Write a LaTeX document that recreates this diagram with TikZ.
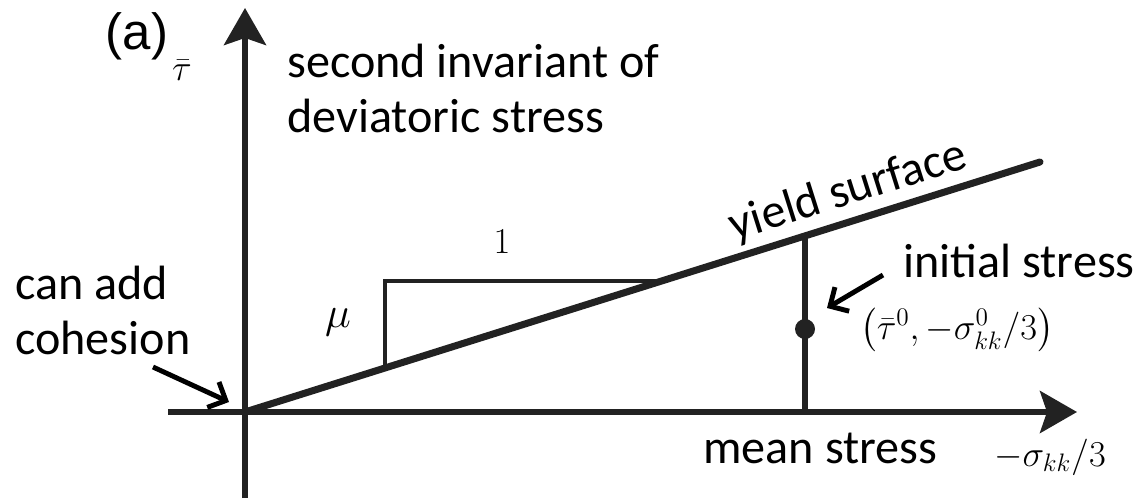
\documentclass[tikz,border=0pt]{standalone}
\usepackage[no-math]{fontspec}
\usepackage{amsmath}
\setmainfont{Carlito}
\newfontfamily\panelfont{Liberation Sans}
\usetikzlibrary{arrows.meta,positioning,calc}
\definecolor{axisGray}{HTML}{222222}

\begin{document}
\begin{tikzpicture}[
    x=0.02cm, y=-0.02cm,
    font=\fontsize{27.4}{31}\selectfont,
    axis/.style={draw=axisGray, line width=3.2pt, -{Stealth[length=0.74cm, width=0.84cm, inset=0.14cm]}},
    note/.style={draw=black, line width=2.8pt, -{Straight Barb[length=0.28cm, width=0.56cm]}},
    mathlbl/.style={inner sep=0pt, font=\fontsize{21}{24}\selectfont},
    dot/.style={circle, fill=axisGray, minimum size=0.4cm, inner sep=0pt}
]
    \useasboundingbox (0,0) rectangle (1136,498);

    % Axes
    \coordinate (O) at (245,412);
    \coordinate (ybot) at (245,498);
    \coordinate (ytop) at (245,8);
    \coordinate (xleft) at (168,412);
    \coordinate (xright) at (1077,412);
    \draw[draw=axisGray, line width=3.2pt] (ybot) -- (O);
    \draw[axis] (O) -- (ytop);
    \draw[draw=axisGray, line width=3.2pt] (xleft) -- (O);
    \draw[axis] (O) -- (xright);

    % Yield surface and slope triangle
    \coordinate (yend) at (1040,162);
    \coordinate (triA) at (385,368);
    \coordinate (triB) at (385,281);
    \coordinate (triC) at (661,281);
    \draw[draw=axisGray, line width=2.8pt] (triA) -- (triB) -- (triC);
    \draw[draw=axisGray, line width=4pt, line cap=round] (O) -- (yend)
        node[sloped, above, pos=0.77, inner sep=3pt] (ylbl) {yield surface};

    % Initial stress
    \coordinate (ptop) at (805,237);
    \coordinate (pbot) at (805,412);
    \draw[draw=axisGray, line width=3.4pt] (pbot) -- (ptop);
    \node[dot] (P) at (805,329) {};

    % Labels
    \node[font=\panelfont\fontsize{29}{33}\selectfont] (panel) at (137,36) {(a)};
    \node[mathlbl] (tau) at (182,70) {$\bar\tau$};
    \node[anchor=north west, align=left, inner sep=0pt] (ylabel) at (287,44)
        {second invariant of\\deviatoric stress};
    \node[anchor=base west, inner sep=0pt] (xlabel) at (703,463) {mean stress};
    \node[mathlbl] (sig) at (1050,457) {$-\sigma_{kk}/3$};
    \node[mathlbl, font=\fontsize{22}{24}\selectfont] (one) at (502,242) {$1$};
    \node[mathlbl, font=\fontsize{23}{26}\selectfont] (mu) at (338,322) {$\mu$};
    \node[anchor=base west, inner sep=0pt] (init) at (903,277) {initial stress};
    \node[mathlbl, font=\fontsize{20}{23}\selectfont] (plbl) at (957,330) {$\bigl(\bar\tau^0, -\sigma^0_{kk}/3\bigr)$};
    \node[anchor=north west, align=left, inner sep=0pt] (coh) at (15,266)
        {can add\\cohesion};

    % Arrows
    \coordinate (initTail) at (883,275);
    \coordinate (initTip) at (827,308);
    \draw[note] (initTail) -- (initTip);
    \coordinate (cohTail) at (153,367);
    \coordinate (cohTip) at (229,402);
    \draw[note] (cohTail) -- (cohTip);
\end{tikzpicture}
\end{document}
